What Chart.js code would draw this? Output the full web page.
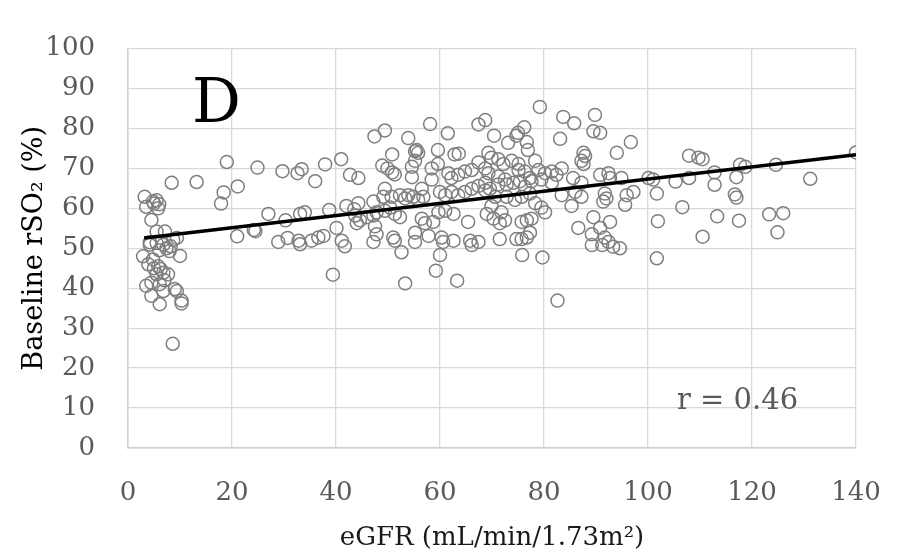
<!DOCTYPE html>
<html>
<head>
<meta charset="utf-8">
<script src="https://cdn.jsdelivr.net/npm/chart.js@4"></script>
<style>
  body { margin: 0; background: #fff; }
</style>
</head>
<body>
<canvas id="Chart" width="912" height="554"></canvas>
<script>
// eGFR (x) and baseline rSO2 (y)
const egfr = [
  3.2, 3.5, 4.8, 5.5, 5.8, 4.5, 7.1, 5.5, 4.2, 5.5, 6.8, 8.7, 9.4, 7.4, 10, 2.9, 3.9, 4.8, 5.8, 6.8, 7.7, 5.5,
  3.5, 4.5, 6.1, 6.8, 4.5, 9, 9.4, 6.1, 10.3, 10.3, 8.6, 8.4, 13.2, 19, 18.4, 17.9, 21.1, 21, 24.2, 24.5,
  5, 6, 4.2, 6, 8, 6.3, 7, 8.2, 5,
  27, 24.9, 29.7, 32.6, 33.4, 28.9, 30.7, 30.3, 32.8, 33.1, 33.1,
  37.9, 41, 36, 42.7, 44.3, 34, 38.7, 42, 43.5, 44.3, 40.1, 44, 36.6, 37.6, 35.3, 41.1, 41.7,
  47.4, 49.4, 58.1, 53.9, 61.5, 67.4, 68.7, 50.8, 55.5, 55.8, 55.2, 59.6, 62.8, 63.6,
  48.9, 49.9, 50.8, 51.3, 54.6, 55.2, 58.4, 59.6, 54.6, 56.5, 58.4, 61.6, 62.2, 63.5, 64.8, 66.1, 67.4,
  49.4, 49.1, 47.2, 50.7, 52.3, 53.3, 53.9, 54.9, 55.8, 56.8, 60, 61, 62.2, 63.5, 64.8, 66.1, 67.4, 68.7,
  43.7, 44.6, 45.9, 47.2, 47.8, 49.4, 50.4, 51.3, 52.3, 56.5, 57.1, 58.7, 59.7, 61, 62.6, 65.4,
  47.5, 47.8, 47.2, 51, 51.3, 55.2, 55.2, 57.8, 52.6, 60.3, 62.6, 60.6, 65.8, 66.1, 67.4, 60,
  39.4, 53.3, 59.2, 63.3, 79.7, 82.6, 101.7,
  79.2, 83.7, 85.8, 89.8, 89.5, 90.8, 76.2, 75, 74.7, 70.4, 73.1, 76.7, 76.9, 83.1, 96.7, 94,
  87.6, 87.9, 87.2, 87.6, 69.3, 69.9, 71.2, 72.2, 73.8, 75.1, 78.3, 68.7, 69.3, 71.2, 72.5,
  75.1, 76.3, 77.3, 78.9, 80.2, 81.5, 82.4, 83.4, 85.6, 87.2, 90.8, 92.4, 92.7, 94.9, 100.1, 101,
  101.7, 97.2, 95.9, 95.6, 91.7, 92, 91.4, 86, 87.2, 85.3, 68.7, 69.6, 71.2, 70.6, 69.9, 69, 70.3,
  72.8, 74.1, 75.4, 76.3, 77.6, 79.5, 81.5, 72.8, 74.4, 75.7, 77.3, 78.3, 79.5, 80.2, 83.4,
  71.8, 72.5, 71.5, 75.7, 76.7, 77.6, 77.3, 76.7, 75.7, 74.7, 71.5, 75.8,
  86.6, 89.2, 89.5, 90.8, 91.7, 92.7, 92.4, 93.3, 94.6, 91.2, 89.2, 101.9,
  107.9, 109.7, 110.5, 117.7, 118.7, 124.6, 112.8, 112.8, 107.9, 105.3, 117, 131.2, 116.7, 117,
  106.6, 113.3, 117.5, 123.3, 126, 124.9, 110.5, 140
];
const rso2 = [
  62.9, 60.4, 61.7, 62, 60, 57.1, 54.2, 54.2, 50.9, 51.3, 50.9, 52.1, 52.6, 50, 48.1, 48, 46, 47.2, 45.5, 43.9, 43.5, 43.5,
  40.6, 41.4, 41, 39.3, 38.1, 39.8, 39.3, 36, 36.9, 36.2, 26.1, 66.4, 66.6, 71.6, 64, 61.2, 65.5, 53, 54.6, 54.3,
  61.2, 61, 51.5, 49.5, 49.3, 44.8, 42, 50.5, 45,
  58.6, 70.2, 69.3, 68.8, 69.8, 51.6, 52.6, 57, 51.9, 51, 58.6,
  71, 72.3, 66.8, 68.4, 67.6, 59, 59.6, 60.6, 59.8, 61.3, 55.1, 56.3, 52.7, 53.1, 51.9, 51.9, 50.5,
  78, 79.5, 81.1, 77.6, 78.8, 81, 82.1, 73.5, 74.6, 73.9, 74.3, 74.6, 73.5, 73.7,
  70.7, 70, 69, 68.5, 70.4, 71.9, 70, 71.1, 67.8, 64.9, 67.2, 68.8, 67.6, 68.4, 69.2, 69.6, 71.5,
  64.9, 62.9, 61.7, 62.9, 63.3, 62.5, 63.3, 62.9, 62.1, 62.9, 64.1, 63.3, 64.1, 63.3, 64.1, 64.9, 65.6, 66.4,
  58.2, 57, 57.8, 58.2, 59, 59.4, 60.2, 58.6, 57.8, 57.4, 56.3, 56.6, 59, 59.4, 58.6, 56.6,
  55.5, 53.5, 51.6, 52.7, 51.9, 53.9, 51.6, 53.1, 49, 52.7, 51.9, 51.6, 51.9, 50.8, 51.6, 48.3,
  43.4, 41.2, 44.4, 41.9, 47.7, 36.9, 47.5,
  85.4, 82.9, 81.3, 83.4, 79.3, 78.9, 80.3, 78.9, 78.2, 78.2, 76.4, 76.6, 74.6, 77.4, 76.6, 73.9,
  73.9, 73.1, 71.9, 71.1, 73.9, 72.7, 72.3, 71.1, 71.9, 71.1, 71.9, 70, 68.8, 68, 67.2,
  69.6, 69.2, 67.6, 69.6, 68.8, 69.2, 68.4, 70, 67.6, 66.4, 68.4, 68.8, 67.6, 67.6, 67.6, 67.2,
  63.7, 64.1, 63.3, 60.9, 63.7, 62.5, 61.7, 64.1, 62.9, 60.6, 64.5, 64.9, 66, 62.9, 60.6, 58.6, 57.4,
  66, 66.4, 66.8, 65.4, 66.8, 67.2, 66.4, 62.9, 62.1, 62.9, 63.7, 61.3, 60.2, 59, 63.3,
  59, 57, 56.3, 56.6, 57, 57.4, 53.9, 52.7, 52.3, 52.3, 52.3, 48.3,
  55.1, 53.5, 57.8, 55.1, 52.7, 56.6, 51.6, 50.4, 50, 50.8, 50.8, 56.8,
  73.2, 72.7, 72.3, 70.9, 70.4, 70.9, 69, 65.9, 67.6, 66.7, 67.8, 67.4, 63.5, 62.7,
  60.3, 58, 56.9, 58.5, 58.8, 54, 52.9, 74
];

// linear trend line end points
const trendX = [3.1, 140];
const trendY = [52.6, 73.4];

const xTicks = [0, 20, 40, 60, 80, 100, 120, 140];
const yTicks = [0, 10, 20, 30, 40, 50, 60, 70, 80, 90, 100];

const xTitle = 'eGFR (mL/min/1.73m²)';
const yTitle = 'Baseline rSO₂ (%)';
const panelLabel = 'D';
const rLabel = 'r = 0.46';

const serif = "'DejaVu Serif', serif";

const points = egfr.map((x, i) => ({ x: x, y: rso2[i] }));
const trend = trendX.map((x, i) => ({ x: x, y: trendY[i] }));

// panel letter and correlation text
const labelPlugin = {
    id: 'labels',
    afterDraw(chart) {
        const ctx = chart.ctx;
        const area = chart.chartArea;
        ctx.save();
        ctx.textBaseline = 'alphabetic';
        ctx.textAlign = 'left';
        ctx.fillStyle = '#000';
        ctx.font = "61px " + serif;
        ctx.fillText(panelLabel, area.left + 64, area.top + 73);
        ctx.fillStyle = '#595959';
        ctx.font = "29px " + serif;
        ctx.fillText(rLabel, area.left + 549, area.top + 360);
        ctx.restore();
    }
};

const ctx = document.getElementById('Chart').getContext('2d');

const chartOptions = {
    type: 'scatter',
    data: {
        datasets: [{
            label: 'Baseline rSO2',
            data: points,
            pointStyle: 'circle',
            pointRadius: 6.5,
            borderColor: '#7f7f7f',
            backgroundColor: 'rgba(0,0,0,0)',
            borderWidth: 1.5,
            showLine: false,
            order: 2
        }, {
            type: 'line',
            label: 'Trend',
            data: trend,
            borderColor: '#000',
            borderWidth: 3.5,
            pointRadius: 0,
            fill: false,
            order: 1
        }]
    },
    options: {
        responsive: false,
        animation: false,
        layout: { padding: { top: 22, right: 56, left: 0, bottom: 0 } },
        plugins: {
            legend: { display: false },
            tooltip: { enabled: false }
        },
        scales: {
            x: {
                type: 'linear',
                min: 0,
                max: 140,
                afterBuildTicks: (scale) => { scale.ticks = xTicks.map(v => ({ value: v })); },
                afterFit: (scale) => { scale.height = 106; },
                grid: { color: '#d9d9d9', lineWidth: 1.3, drawTicks: false },
                border: { color: '#d0d0d0', width: 1.5 },
                ticks: { color: '#595959', font: { family: serif, size: 26 }, padding: 30 },
                title: {
                    display: true,
                    text: xTitle,
                    color: '#1a1a1a',
                    font: { family: serif, size: 26 },
                    padding: { top: 0, bottom: 0 }
                }
            },
            y: {
                type: 'linear',
                min: 0,
                max: 100,
                afterBuildTicks: (scale) => { scale.ticks = yTicks.map(v => ({ value: v })); },
                afterFit: (scale) => { scale.width = 128; },
                grid: { color: '#d9d9d9', lineWidth: 1.3, drawTicks: false },
                border: { color: '#d0d0d0', width: 1.5 },
                ticks: { color: '#595959', font: { family: serif, size: 26 }, padding: 33 },
                title: {
                    display: true,
                    text: yTitle,
                    color: '#000',
                    font: { family: serif, size: 27 },
                    padding: { top: 19, bottom: 0 }
                }
            }
        }
    },
    plugins: [labelPlugin]
};

const myChart = new Chart(ctx, chartOptions);
</script>
</body>
</html>
